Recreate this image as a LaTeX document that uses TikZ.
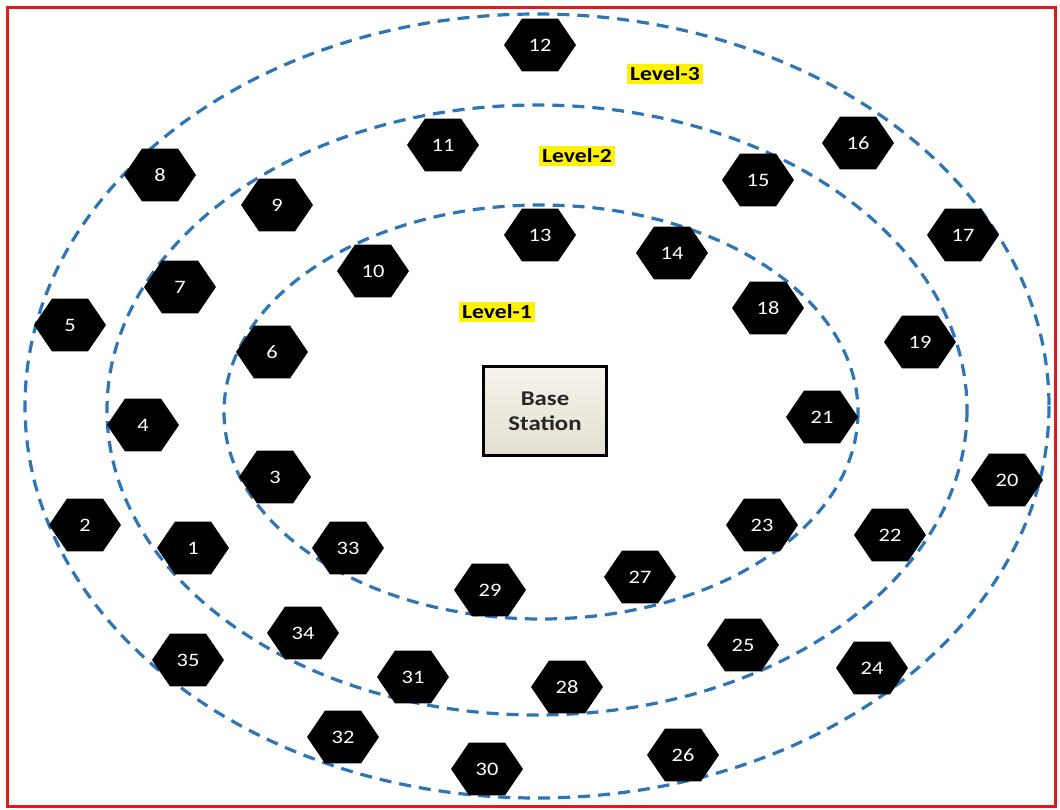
\documentclass[tikz,border=0pt]{standalone}
\usepackage{fontspec}
\setmainfont{Carlito}
\usetikzlibrary{shapes.geometric}
\definecolor{ringblue}{RGB}{46,117,182}
\definecolor{framered}{RGB}{232,24,24}
\definecolor{boxtop}{RGB}{246,244,236}
\definecolor{boxbottom}{RGB}{226,222,208}
\tikzset{
    sensor/.style={regular polygon, regular polygon sides=6, fill=black, text=white, minimum size=61pt, inner sep=0pt, xscale=1.18, font=\fontsize{19}{20}\selectfont},
    ring/.style={draw=ringblue, line width=3.2pt, dash pattern=on 12pt off 8pt},
    levellabel/.style={fill=yellow, inner sep=2.5pt, xscale=1.18, font=\fontsize{20}{22}\selectfont\bfseries},
    station/.style={draw=black, line width=3pt, top color=boxtop, bottom color=boxbottom, minimum width=104pt, minimum height=89pt, xscale=1.18, align=center, font=\fontsize{21}{25}\selectfont\bfseries, text=black!85}
}
\begin{document}
\begin{tikzpicture}[x=1pt, y=-1pt]
\useasboundingbox (0,0) rectangle (1060,809);
% outer frame
\draw[framered, line width=3pt] (7,7) rectangle (1055,806);

% the three levels
\draw[ring] (537,406) ellipse [x radius=512, y radius=392];
\draw[ring] (537,410) ellipse [x radius=430, y radius=305];
\draw[ring] (541,412) ellipse [x radius=317, y radius=207];

% sink in the middle
\node[station] (bs) at (545,411) {Base\\Station};

% level names
\node[levellabel] (lvl1) at (497,312) {Level-1};
\node[levellabel] (lvl2) at (577,156) {Level-2};
\node[levellabel] (lvl3) at (665,74) {Level-3};

% sensor nodes
\node[sensor] (s1) at (193,548) {1};
\node[sensor] (s2) at (85,525) {2};
\node[sensor] (s3) at (275,477) {3};
\node[sensor] (s4) at (143,425) {4};
\node[sensor] (s5) at (70,325) {5};
\node[sensor] (s6) at (272,352) {6};
\node[sensor] (s7) at (180,287) {7};
\node[sensor] (s8) at (160,175) {8};
\node[sensor] (s9) at (277,205) {9};
\node[sensor] (s10) at (373,271) {10};
\node[sensor] (s11) at (443,145) {11};
\node[sensor] (s12) at (540,45) {12};
\node[sensor] (s13) at (540,235) {13};
\node[sensor] (s14) at (672,253) {14};
\node[sensor] (s15) at (758,180) {15};
\node[sensor] (s16) at (858,143) {16};
\node[sensor] (s17) at (963,235) {17};
\node[sensor] (s18) at (768,308) {18};
\node[sensor] (s19) at (920,342) {19};
\node[sensor] (s20) at (1007,480) {20};
\node[sensor] (s21) at (822,417) {21};
\node[sensor] (s22) at (890,535) {22};
\node[sensor] (s23) at (762,525) {23};
\node[sensor] (s24) at (872,668) {24};
\node[sensor] (s25) at (743,645) {25};
\node[sensor] (s26) at (683,755) {26};
\node[sensor] (s27) at (640,577) {27};
\node[sensor] (s28) at (567,687) {28};
\node[sensor] (s29) at (490,590) {29};
\node[sensor] (s30) at (487,769) {30};
\node[sensor] (s31) at (413,677) {31};
\node[sensor] (s32) at (343,737) {32};
\node[sensor] (s33) at (348,548) {33};
\node[sensor] (s34) at (303,633) {34};
\node[sensor] (s35) at (188,660) {35};
\end{tikzpicture}
\end{document}
